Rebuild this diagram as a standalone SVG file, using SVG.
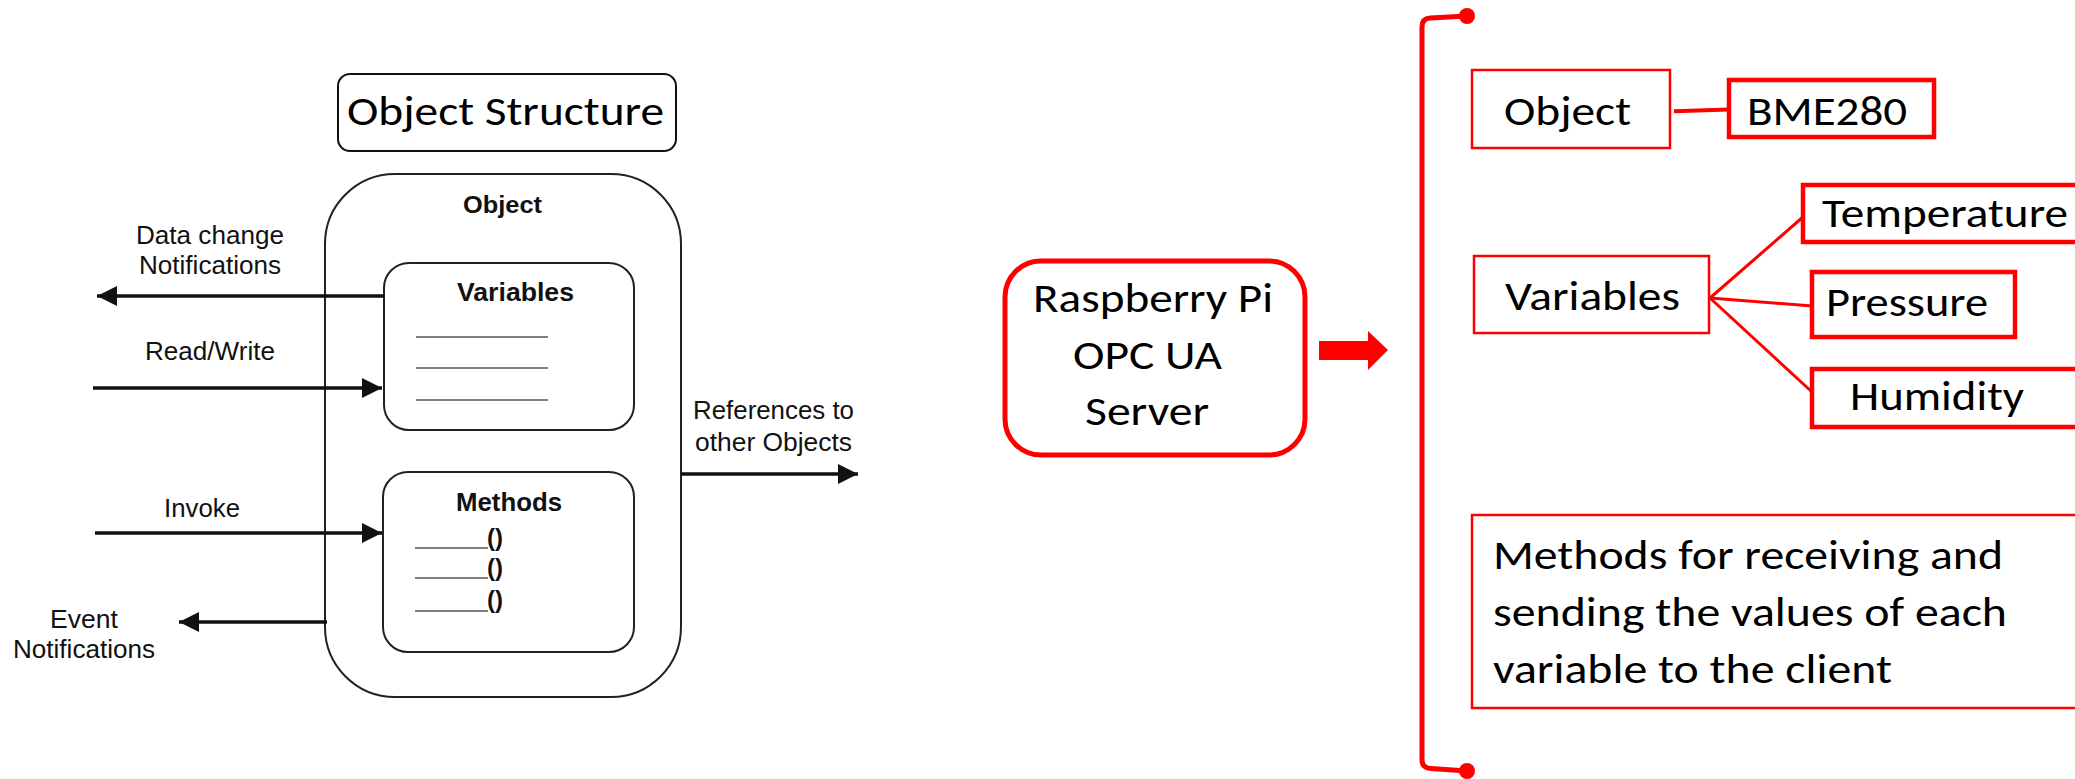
<svg xmlns="http://www.w3.org/2000/svg" width="2075" height="779" viewBox="0 0 2075 779">
<style>
.cal{font-family:Carlito,Lato,"Liberation Sans",sans-serif;fill:#000}
.ar{font-family:"Liberation Sans",Arial,sans-serif;fill:#111}
.arb{font-family:"Liberation Sans",Arial,sans-serif;font-weight:bold;fill:#111}
.blk{fill:#fff;stroke:#222;stroke-width:2}
.gl{stroke:#555;stroke-width:1.6}
.bar{stroke:#111;stroke-width:3.5;fill:none}
.rthin{fill:#fff;stroke:#f00;stroke-width:2.5}
.rthick{fill:#fff;stroke:#f00;stroke-width:4.5}
.rl{stroke:#f00;fill:none}
</style>
<defs>
<marker id="ah" viewBox="0 0 20 20" refX="20" refY="10" markerWidth="20" markerHeight="20" markerUnits="userSpaceOnUse" orient="auto">
<path d="M0,0 L20,10 L0,20 z" fill="#111"/>
</marker>
</defs>
<rect width="2075" height="779" fill="#fff"/>

<g id="title">
<rect x="338" y="74" width="338" height="77" rx="12" fill="#fff" stroke="#111" stroke-width="2"/>
<text class="cal" x="505.5" y="125" font-size="42" text-anchor="middle" textLength="317" lengthAdjust="spacingAndGlyphs">Object Structure</text>
</g>

<g id="object">
<rect class="blk" x="325" y="174" width="356" height="523" rx="70"/>
<text class="arb" x="502.5" y="213" font-size="24" text-anchor="middle" textLength="79" lengthAdjust="spacingAndGlyphs">Object</text>
</g>

<g id="variables">
<rect class="blk" x="384" y="263" width="250" height="167" rx="25"/>
<text class="arb" x="515.5" y="301" font-size="25" text-anchor="middle" textLength="117" lengthAdjust="spacingAndGlyphs">Variables</text>
<line class="gl" x1="416" y1="337" x2="548" y2="337"/>
<line class="gl" x1="416" y1="368" x2="548" y2="368"/>
<line class="gl" x1="416" y1="400" x2="548" y2="400"/>
</g>

<g id="methods">
<rect class="blk" x="383" y="472" width="251" height="180" rx="25"/>
<text class="arb" x="509" y="511" font-size="25" text-anchor="middle" textLength="106" lengthAdjust="spacingAndGlyphs">Methods</text>
<line class="gl" x1="415" y1="548" x2="488" y2="548"/>
<line class="gl" x1="415" y1="578" x2="488" y2="578"/>
<line class="gl" x1="415" y1="611" x2="488" y2="611"/>
<text class="arb" x="487" y="546" font-size="24">()</text>
<text class="arb" x="487" y="576" font-size="24">()</text>
<text class="arb" x="487" y="608" font-size="24">()</text>
</g>

<g id="left-labels">
<text class="ar" x="210" y="244" font-size="25" text-anchor="middle" textLength="148" lengthAdjust="spacingAndGlyphs">Data change</text>
<text class="ar" x="210" y="274" font-size="25" text-anchor="middle" textLength="142" lengthAdjust="spacingAndGlyphs">Notifications</text>
<text class="ar" x="210" y="360" font-size="25" text-anchor="middle" textLength="130" lengthAdjust="spacingAndGlyphs">Read/Write</text>
<text class="ar" x="202" y="517" font-size="25" text-anchor="middle" textLength="76" lengthAdjust="spacingAndGlyphs">Invoke</text>
<text class="ar" x="84" y="628" font-size="25" text-anchor="middle" textLength="68" lengthAdjust="spacingAndGlyphs">Event</text>
<text class="ar" x="84" y="658" font-size="25" text-anchor="middle" textLength="142" lengthAdjust="spacingAndGlyphs">Notifications</text>
<text class="ar" x="773.5" y="419" font-size="25" text-anchor="middle" textLength="161" lengthAdjust="spacingAndGlyphs">References to</text>
<text class="ar" x="773.5" y="451" font-size="25" text-anchor="middle" textLength="157" lengthAdjust="spacingAndGlyphs">other Objects</text>
</g>

<g id="connectors">
<line class="bar" x1="384" y1="296" x2="97" y2="296" marker-end="url(#ah)"/>
<line class="bar" x1="93" y1="388" x2="382" y2="388" marker-end="url(#ah)"/>
<line class="bar" x1="95" y1="533" x2="382" y2="533" marker-end="url(#ah)"/>
<line class="bar" x1="327" y1="622" x2="179" y2="622" marker-end="url(#ah)"/>
<line class="bar" x1="681" y1="474" x2="858" y2="474" marker-end="url(#ah)"/>
<path d="M1319,341 H1368 V331 L1388,350 L1368,370 V360 H1319 z" fill="#f00"/>
<path class="rl" stroke-width="5" d="M1467,16 L1430,18 Q1422,18.5 1422,27 L1422,760 Q1422,768 1431,768.5 L1467,771"/>
<circle cx="1467" cy="16" r="8" fill="#f00"/>
<circle cx="1467" cy="771" r="8" fill="#f00"/>
<line class="rl" stroke-width="4" x1="1674" y1="111.3" x2="1729" y2="109.5"/>
<line class="rl" stroke-width="3" x1="1710" y1="298" x2="1803" y2="217"/>
<line class="rl" stroke-width="3" x1="1710" y1="298" x2="1812" y2="306"/>
<line class="rl" stroke-width="3" x1="1710" y1="298" x2="1812" y2="392"/>
</g>

<g id="rpi">
<rect x="1005" y="261" width="300" height="194" rx="36" fill="#fff" stroke="#f00" stroke-width="5"/>
<text class="cal" x="1153" y="312" font-size="41" text-anchor="middle" textLength="240" lengthAdjust="spacingAndGlyphs">Raspberry Pi</text>
<text class="cal" x="1147.5" y="369" font-size="41" text-anchor="middle" textLength="149" lengthAdjust="spacingAndGlyphs">OPC UA</text>
<text class="cal" x="1147" y="425" font-size="41" text-anchor="middle" textLength="124" lengthAdjust="spacingAndGlyphs">Server</text>
</g>

<g id="r-object">
<rect class="rthin" x="1472" y="70" width="198" height="78"/>
<text class="cal" x="1504" y="125" font-size="42" textLength="127" lengthAdjust="spacingAndGlyphs">Object</text>
</g>

<g id="bme280">
<rect class="rthick" x="1729" y="80" width="205" height="57"/>
<text class="cal" x="1747" y="125" font-size="42" textLength="160" lengthAdjust="spacingAndGlyphs">BME280</text>
</g>

<g id="r-variables">
<rect class="rthin" x="1474" y="256" width="235" height="77"/>
<text class="cal" x="1505" y="310" font-size="40" textLength="175" lengthAdjust="spacingAndGlyphs">Variables</text>
</g>

<g id="temperature">
<rect class="rthick" x="1803" y="185" width="290" height="57"/>
<text class="cal" x="1822" y="227" font-size="41" textLength="246" lengthAdjust="spacingAndGlyphs">Temperature</text>
</g>

<g id="pressure">
<rect class="rthick" x="1812" y="272" width="203" height="65"/>
<text class="cal" x="1826" y="316" font-size="41" textLength="162" lengthAdjust="spacingAndGlyphs">Pressure</text>
</g>

<g id="humidity">
<rect class="rthick" x="1812" y="369" width="280" height="58"/>
<text class="cal" x="1850" y="410" font-size="41" textLength="174" lengthAdjust="spacingAndGlyphs">Humidity</text>
</g>

<g id="r-methods">
<rect class="rthin" x="1472" y="515" width="620" height="193"/>
<text class="cal" x="1493" y="569" font-size="41" textLength="510" lengthAdjust="spacingAndGlyphs">Methods for receiving and</text>
<text class="cal" x="1493" y="626" font-size="41" textLength="514" lengthAdjust="spacingAndGlyphs">sending the values of each</text>
<text class="cal" x="1493" y="683" font-size="41" textLength="399" lengthAdjust="spacingAndGlyphs">variable to the client</text>
</g>
</svg>
